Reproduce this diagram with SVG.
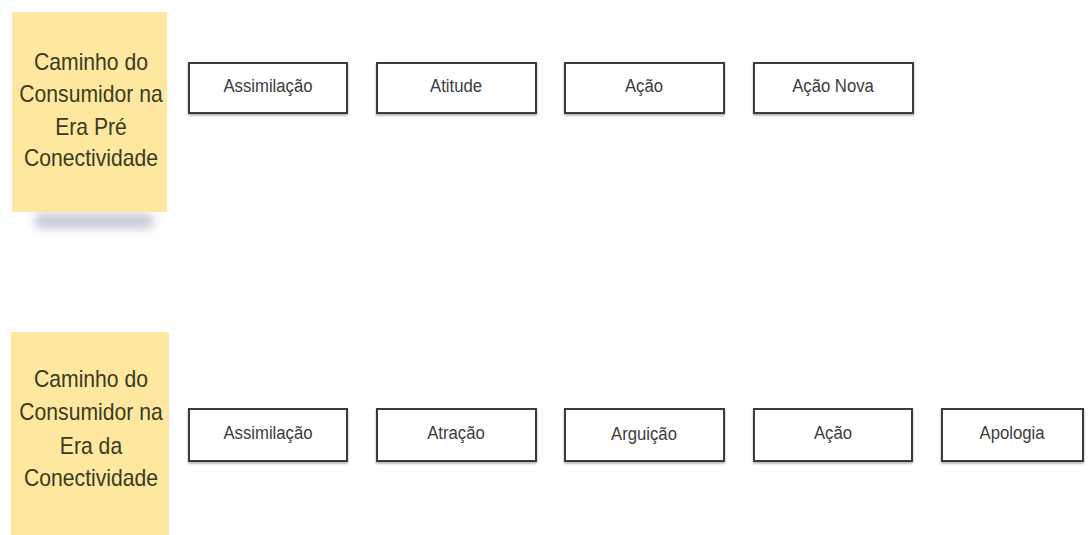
<svg xmlns="http://www.w3.org/2000/svg" width="1088" height="535" viewBox="0 0 1088 535">
<defs>
<filter id="blur" x="-20%" y="-100%" width="140%" height="300%"><feGaussianBlur stdDeviation="5"/></filter>
<filter id="bshadow" x="-5%" y="-10%" width="110%" height="130%"><feDropShadow dx="0" dy="1.5" stdDeviation="0.8" flood-color="#000" flood-opacity="0.35"/></filter>
<style>
.note{fill:#fee89f}
.nt{font-family:"Liberation Sans",Arial,sans-serif;font-size:23px;fill:#3b3a22;text-anchor:middle}
.box{fill:#fff;stroke:#3a3a3a;stroke-width:2}
.bt{font-family:"Liberation Sans",Arial,sans-serif;font-size:19px;fill:#3c3c3c;text-anchor:middle}
</style>
</defs>
<rect width="1088" height="535" fill="#fff"/>
<g id="note-pre">
<rect x="34" y="213" width="120" height="16" rx="8" fill="#8a8fa8" opacity="0.45" filter="url(#blur)"/>
<rect class="note" x="12" y="12" width="155" height="200"/>
<text class="nt" transform="translate(91 70) scale(0.92 1)">Caminho do</text>
<text class="nt" transform="translate(91 102) scale(0.92 1)">Consumidor na</text>
<text class="nt" transform="translate(91 135) scale(0.92 1)">Era Pré</text>
<text class="nt" transform="translate(91 166) scale(0.92 1)">Conectividade</text>
</g>
<g id="note-con">
<rect class="note" x="11" y="332" width="158" height="203"/>
<text class="nt" transform="translate(91 387) scale(0.92 1)">Caminho do</text>
<text class="nt" transform="translate(91 420) scale(0.92 1)">Consumidor na</text>
<text class="nt" transform="translate(91 454) scale(0.92 1)">Era da</text>
<text class="nt" transform="translate(91 486) scale(0.92 1)">Conectividade</text>
</g>
<g id="t1"><rect class="box" filter="url(#bshadow)" x="189" y="63" width="158" height="50"/><text class="bt" transform="translate(268 92) scale(0.88 1)">Assimilação</text></g>
<g id="t2"><rect class="box" filter="url(#bshadow)" x="377" y="63" width="159" height="50"/><text class="bt" transform="translate(456 92) scale(0.88 1)">Atitude</text></g>
<g id="t3"><rect class="box" filter="url(#bshadow)" x="565" y="63" width="159" height="50"/><text class="bt" transform="translate(644 92) scale(0.88 1)">Ação</text></g>
<g id="t4"><rect class="box" filter="url(#bshadow)" x="754" y="63" width="159" height="50"/><text class="bt" transform="translate(833 92) scale(0.88 1)">Ação Nova</text></g>
<g id="b1"><rect class="box" filter="url(#bshadow)" x="189" y="409" width="158" height="52"/><text class="bt" transform="translate(268 439) scale(0.88 1)">Assimilação</text></g>
<g id="b2"><rect class="box" filter="url(#bshadow)" x="377" y="409" width="159" height="52"/><text class="bt" transform="translate(456 439) scale(0.88 1)">Atração</text></g>
<g id="b3"><rect class="box" filter="url(#bshadow)" x="565" y="409" width="159" height="52"/><text class="bt" transform="translate(644 440) scale(0.88 1)">Arguição</text></g>
<g id="b4"><rect class="box" filter="url(#bshadow)" x="754" y="409" width="158" height="52"/><text class="bt" transform="translate(833 439) scale(0.88 1)">Ação</text></g>
<g id="b5"><rect class="box" filter="url(#bshadow)" x="942" y="409" width="141" height="52"/><text class="bt" transform="translate(1012 439) scale(0.88 1)">Apologia</text></g>
<g id="connectors"/>
</svg>
